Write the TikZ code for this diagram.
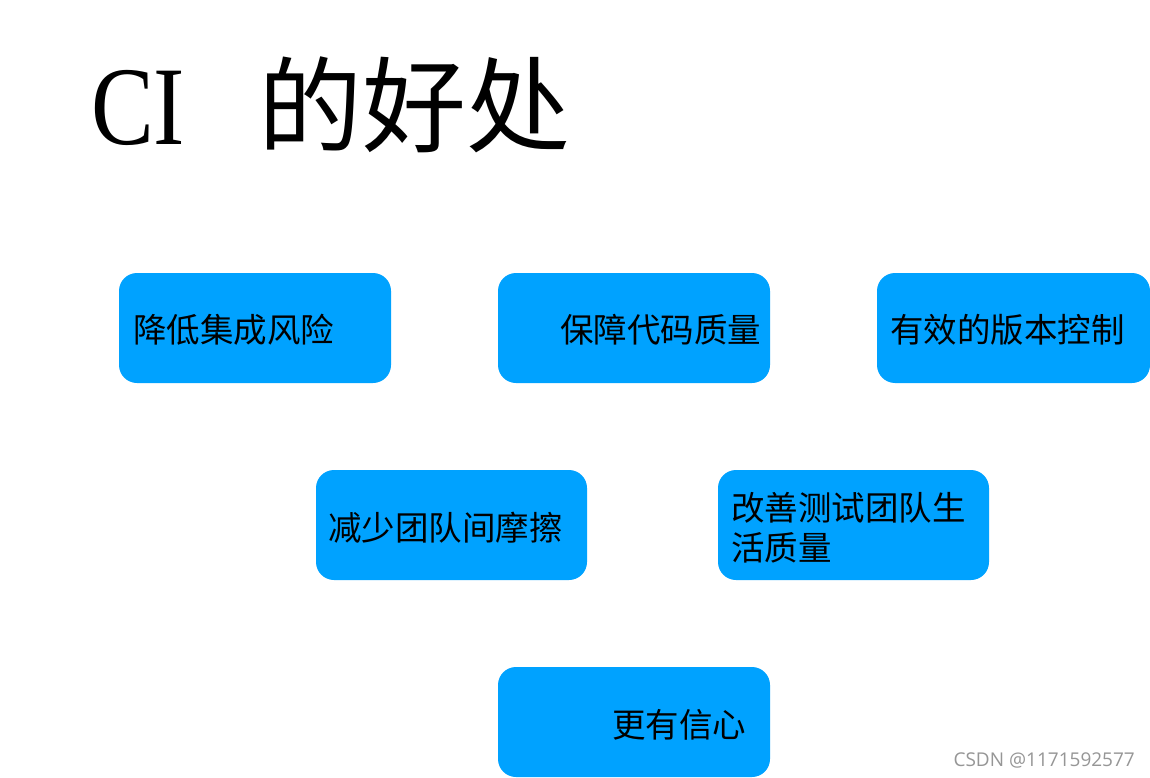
\documentclass[tikz,border=0pt]{standalone}
\usepackage{fontspec}
\usepackage{graphicx}
\newfontfamily\cjk{Noto Sans CJK SC}
\newfontfamily\latinserif{Liberation Serif}
\newfontfamily\wmfont{Open Sans}
\definecolor{boxblue}{RGB}{0,162,255}
\definecolor{wmgray}{RGB}{150,150,150}
\begin{document}
\begin{tikzpicture}[x=1pt,y=-1pt,
  benefit/.style={fill=boxblue, draw=none, rounded corners=18pt, inner sep=0pt, minimum height=110pt},
  btext/.style={anchor=west, inner sep=0pt, font=\cjk\fontsize{33.5}{40}\selectfont, align=left, text=black}]
\useasboundingbox (0,0) rectangle (1150,778);
\fill[white] (0,0) rectangle (1150,778);
% title
\node[anchor=base west, inner sep=0pt, font=\latinserif\fontsize{112}{112}\selectfont] (ci) at (91,145) {\scalebox{0.84}[1]{CI}};
\node[anchor=base west, inner sep=0pt, font=\cjk\fontsize{104}{104}\selectfont] (title) at (258,145) {的好处};
% boxes
\node[benefit, minimum width=272pt] (b1) at (255,328) {};
\node[benefit, minimum width=272pt] (b2) at (634,328) {};
\node[benefit, minimum width=273pt] (b3) at (1013.5,328) {};
\node[benefit, minimum width=271pt] (b4) at (451.5,525) {};
\node[benefit, minimum width=271pt] (b5) at (853.5,525) {};
\node[benefit, minimum width=272pt] (b6) at (634,722) {};
% texts
\node[btext] (t1) at (133,330) {降低集成风险};
\node[btext] (t2) at (560,330) {保障代码质量};
\node[btext] (t3) at (890,330) {有效的版本控制};
\node[btext] (t4) at (328,528) {减少团队间摩擦};
\node[btext] (t5) at (731,528) {改善测试团队生\\活质量};
\node[btext] (t6) at (612,725) {更有信心};
% watermark
\node[anchor=east, inner sep=0pt, text=wmgray, font=\wmfont\fontsize{19}{19}\selectfont] (wm) at (1135,760) {CSDN @1171592577};
\end{tikzpicture}
\end{document}
